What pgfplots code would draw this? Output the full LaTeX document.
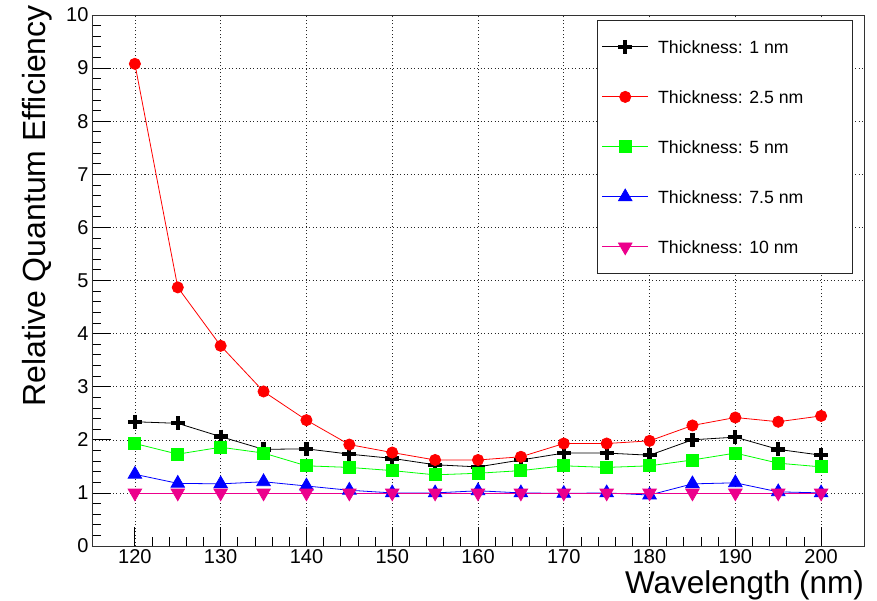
\documentclass[border=0pt]{standalone}
\usepackage{fontspec}
\setmainfont{Liberation Sans}
\usepackage{pgfplots}
\pgfplotsset{compat=1.18}

\newcommand{\legtext}[1]{\makebox[186pt][l]{#1}}

\begin{document}
\begin{tikzpicture}
\useasboundingbox (-92pt,-54pt) rectangle (785pt,546pt);
\begin{axis}[
    at={(0pt,0pt)}, anchor=south west,
    scale only axis, width=772pt, height=531pt,
    xmin=115, xmax=205, ymin=0, ymax=10,
    xtick={120,130,...,200}, ytick={0,1,...,10},
    minor x tick num=4, minor y tick num=4,
    xtick pos=bottom, ytick pos=left, tick align=inside,
    major tick length=19pt, minor tick length=9pt,
    tick style={black, line width=0.8pt},
    grid=major,
    major grid style={black!85, line width=0.6pt, dash pattern=on 1pt off 2.5pt},
    axis line style={black!80, line width=0.9pt},
    /pgf/number format/assume math mode=true,
    tick label style={font=\fontsize{20}{24}\selectfont},
    xlabel={Wavelength (nm)},
    ylabel={Relative Quantum Efficiency},
    xlabel style={font=\fontsize{31.5}{36}\selectfont, at={(axis description cs:1,-0.047)}, anchor=north east, inner sep=0pt},
    ylabel style={font=\fontsize{32}{36}\selectfont, at={(axis description cs:-0.0907,1.0188)}, anchor=north east, inner sep=0pt},
    legend cell align=left,
    legend image code/.code={\draw[mark repeat=2,mark phase=2] plot coordinates {(0pt,0pt) (23pt,0pt) (46pt,0pt)};},
    legend style={at={(axis description cs:0.9858,0.9906)}, anchor=north east,
        draw=black!85, line width=0.8pt, font=\fontsize{17.7}{20}\selectfont,
        inner xsep=4pt, inner ysep=14pt, row sep=25pt,
        /tikz/every odd column/.append style={column sep=5pt},
        nodes={text height=13pt, text depth=0pt, inner ysep=6pt, inner xsep=4.5pt}},
    every axis plot/.append style={line width=0.8pt},
]
\addplot[black, mark=+, mark size=7pt, mark options={line width=4.3pt}] coordinates {
(120,2.34) (125,2.31) (130,2.06) (135,1.82) (140,1.83) (145,1.73) (150,1.65) (155,1.53) (160,1.49)
(165,1.62) (170,1.75) (175,1.75) (180,1.71) (185,2.00) (190,2.05) (195,1.82) (200,1.71)};
\addplot[red, mark=*, mark size=5.6pt, mark options={fill=red}] coordinates {
(120,9.08) (125,4.87) (130,3.77) (135,2.91) (140,2.37) (145,1.91) (150,1.76) (155,1.62) (160,1.62)
(165,1.68) (170,1.93) (175,1.93) (180,1.98) (185,2.27) (190,2.42) (195,2.34) (200,2.45)};
\addplot[green, mark=square*, mark size=6pt, mark options={fill=green}] coordinates {
(120,1.93) (125,1.73) (130,1.86) (135,1.75) (140,1.51) (145,1.48) (150,1.42) (155,1.34) (160,1.37)
(165,1.42) (170,1.51) (175,1.48) (180,1.51) (185,1.62) (190,1.75) (195,1.56) (200,1.49)};
\addplot[blue, mark=triangle*, mark size=7.8pt, mark options={fill=blue}] coordinates {
(120,1.35) (125,1.18) (130,1.17) (135,1.21) (140,1.13) (145,1.05) (150,1.00) (155,1.00) (160,1.04)
(165,1.00) (170,0.99) (175,1.00) (180,0.96) (185,1.17) (190,1.19) (195,1.02) (200,1.00)};
\addplot[magenta, mark=triangle*, mark size=7.8pt, mark options={fill=magenta, rotate=180}] coordinates {
(120,1.00) (125,1.00) (130,1.00) (135,1.00) (140,1.00) (145,1.00) (150,1.00) (155,1.00) (160,1.00)
(165,1.00) (170,1.00) (175,1.00) (180,1.00) (185,1.00) (190,1.00) (195,1.00) (200,1.00)};
\legend{\legtext{Thickness: 1 nm}, \legtext{Thickness: 2.5 nm}, \legtext{Thickness: 5 nm}, \legtext{Thickness: 7.5 nm}, \legtext{Thickness: 10 nm}}
\end{axis}
\end{tikzpicture}
\end{document}
